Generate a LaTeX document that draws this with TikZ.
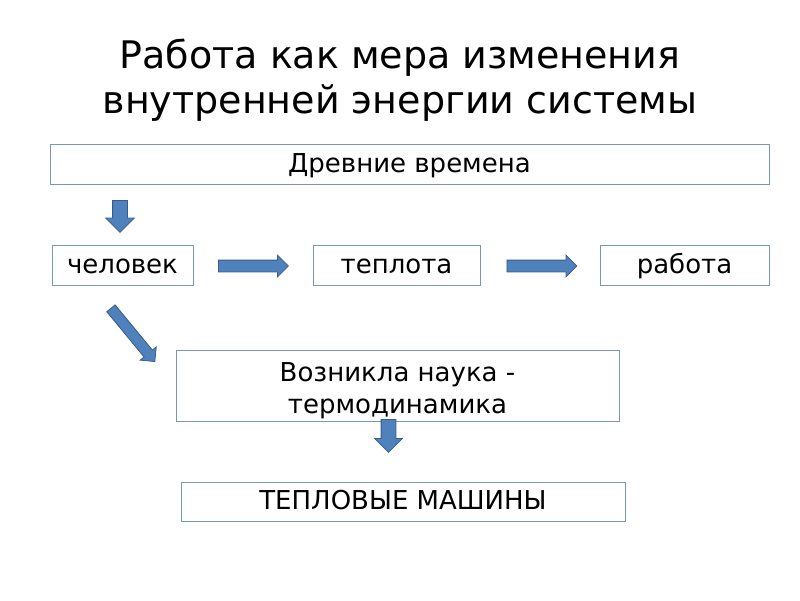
\documentclass[tikz,border=0pt]{standalone}
\usepackage{fontspec}
\setmainfont{DejaVu Sans}
\usetikzlibrary{shapes.arrows}
\definecolor{boxline}{HTML}{7A96BA}
\definecolor{arrowfill}{HTML}{4F81BD}
\definecolor{arrowline}{HTML}{385D8A}
\begin{document}
\begin{tikzpicture}[x=1pt, y=-1pt,
			box/.style={draw=boxline, line width=0.8pt, minimum height=40pt, inner sep=0pt, text height=20pt, text depth=4pt, font=\fontsize{26}{32}\selectfont},
			blockarrow/.style={single arrow, draw=arrowline, fill=arrowfill, line width=0.8pt, inner xsep=0pt, inner ysep=5.5pt, single arrow head extend=5pt, anchor=tail}
			]
			\useasboundingbox (0,0) rectangle (800,600);
			
			% Title
			\node[font=\fontsize{38}{45}\selectfont, align=center] (title) at (400,80) {Работа как мера изменения\\внутренней энергии системы};
			
			% Nodes
			\node[box, minimum width=719pt] (ancient) at (409.5,164) {Древние времена};
			\node[box, minimum width=141pt] (human) at (122.5,265) {человек};
			\node[box, minimum width=167pt] (heat) at (396.5,265) {теплота};
			\node[box, minimum width=169pt] (work) at (684.5,265) {работа};
			\node[box, minimum width=443pt, minimum height=71pt, text height=59pt, align=center] (science) at (397.5,385.5) {Возникла наука -\\термодинамика};
			\node[box, minimum width=444pt, minimum height=39pt] (machines) at (403,501.5) {ТЕПЛОВЫЕ МАШИНЫ};
			
			% Arrows
			\node[blockarrow, minimum height=32pt, inner ysep=7pt, single arrow head extend=7pt, rotate=-90] (down1) at (120,200) {};
			\node[blockarrow, minimum height=70pt] (right1) at (218,266) {};
			\node[blockarrow, minimum height=70pt] (right2) at (506.5,266) {};
			\node[blockarrow, minimum height=69pt, inner ysep=5pt, rotate=-50.5] (diag) at (110.7,308) {};
			\node[blockarrow, minimum height=33pt, inner ysep=7pt, single arrow head extend=6.5pt, rotate=-90] (down2) at (388.5,419) {};
			
		\end{tikzpicture}
\end{document}
